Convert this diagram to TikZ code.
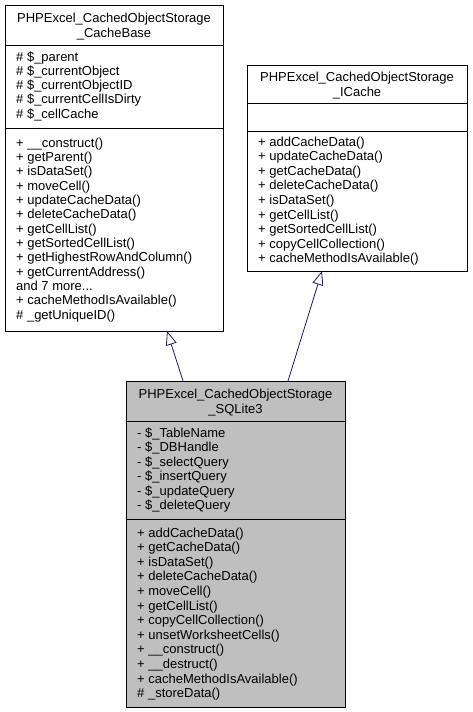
\documentclass[tikz,border=0pt]{standalone}
\usepackage{fontspec}
\setmainfont{Liberation Sans}
\usetikzlibrary{arrows.meta,calc}
\definecolor{edgeblue}{HTML}{191970}
\definecolor{curfill}{HTML}{BFBFBF}
\newcommand{\threedots}{.\kern0pt.\kern0pt.}
\tikzset{
  box/.style={draw=black, line width=0.9pt, anchor=north west, inner sep=0pt, outer sep=0pt},
  sep/.style={draw=black, line width=0.9pt},
  txt/.style={anchor=base west, inner sep=0pt, font=\fontsize{13}{15}\selectfont},
  ttl/.style={anchor=base, inner sep=0pt, font=\fontsize{13}{15}\selectfont},
  inh/.style={draw=edgeblue, line width=0.8pt, -{Triangle[open, length=14pt, width=11pt, fill=white]}},
}
\begin{document}
\begin{tikzpicture}[x=1pt, y=-1pt]
\useasboundingbox (0,0) rectangle (472,712);
% ---------- Box A: CacheBase ----------
\node[box, minimum width=218pt, minimum height=326pt] (A) at (5,5) {};
\draw[sep] (5,45.5) -- (223,45.5);
\draw[sep] (5,128.3) -- (223,128.3);
\node[ttl] (A-t1) at (114,22.5) {PHPExcel\_CachedObjectStorage};
\node[ttl] (A-t2) at (114,37.5) {\_CacheBase};
\foreach \t [count=\i from 0] in {\#~\$\_parent, \#~\$\_currentObject, \#~\$\_currentObjectID, \#~\$\_currentCellIsDirty, \#~\$\_cellCache}
  \node[txt] (A-a\i) at (16, 61.2+14.2*\i) {\t};
\foreach \t [count=\i from 0] in {+~\_\_construct(), +~getParent(), +~isDataSet(), +~moveCell(), +~updateCacheData(), +~deleteCacheData(), +~getCellList(), +~getSortedCellList(), +~getHighestRowAndColumn(), +~getCurrentAddress(), {and 7 more\threedots}, +~cacheMethodIsAvailable(), \#~\_getUniqueID()}
  \node[txt] (A-m\i) at (16, 147+14.35*\i) {\t};
% ---------- Box B: ICache ----------
\node[box, minimum width=220pt, minimum height=206pt] (B) at (247,65) {};
\draw[sep] (247,103.5) -- (467,103.5);
\draw[sep] (247,131) -- (467,131);
\node[ttl] (B-t1) at (357,81) {PHPExcel\_CachedObjectStorage};
\node[ttl] (B-t2) at (357,96) {\_ICache};
\foreach \t [count=\i from 0] in {+~addCacheData(), +~updateCacheData(), +~getCacheData(), +~deleteCacheData(), +~isDataSet(), +~getCellList(), +~getSortedCellList(), +~copyCellCollection(), +~cacheMethodIsAvailable()}
  \node[txt] (B-m\i) at (258, 146+14.6*\i) {\t};
% ---------- Box C: SQLite3 ----------
\node[box, fill=curfill, minimum width=219pt, minimum height=326pt] (C) at (126,381) {};
\draw[sep] (126,421) -- (345,421);
\draw[sep] (126,519) -- (345,519);
\node[ttl] (C-t1) at (235.5,398.3) {PHPExcel\_CachedObjectStorage};
\node[ttl] (C-t2) at (235.5,413.3) {\_SQLite3};
\foreach \t [count=\i from 0] in {-~\$\_TableName, -~\$\_DBHandle, -~\$\_selectQuery, -~\$\_insertQuery, -~\$\_updateQuery, -~\$\_deleteQuery}
  \node[txt] (C-a\i) at (137, 437+14.5*\i) {\t};
\foreach \t [count=\i from 0] in {+~addCacheData(), +~getCacheData(), +~isDataSet(), +~deleteCacheData(), +~moveCell(), +~getCellList(), +~copyCellCollection(), +~unsetWorksheetCells(), +~\_\_construct(), +~\_\_destruct(), +~cacheMethodIsAvailable(), \#~\_storeData()}
  \node[txt] (C-m\i) at (137, 537+14.6*\i) {\t};
% ---------- Inheritance connectors ----------
\draw[inh] ($(C.north west)+(57,0)$) -- ($(A.south west)+(162,0)$);
\draw[inh] ($(C.north west)+(162,0)$) -- ($(B.south west)+(75,0)$);
\end{tikzpicture}
\end{document}
